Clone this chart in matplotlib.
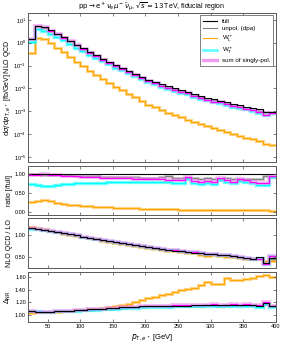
import numpy as np
import matplotlib
matplotlib.use('Agg')
import matplotlib.pyplot as plt
from matplotlib.lines import Line2D
from matplotlib.ticker import FormatStrFormatter, LogLocator, NullLocator

plt.rcParams['font.family'] = ['Liberation Sans', 'DejaVu Sans']
plt.rcParams['mathtext.fontset'] = 'dejavusans'

# bin edges in p_T,e+ [GeV]
edges = np.arange(20, 410, 10)

# full NLO QCD distribution [fb/GeV]
full = [1.45, 5.6, 4.7, 3.5, 2.5, 1.75, 1.2, 0.82, 0.57, 0.40,
        0.28, 0.20, 0.145, 0.105, 0.078, 0.058, 0.044, 0.033, 0.024, 0.019,
        0.0155, 0.0125, 0.0102, 0.0085, 0.0070, 0.0058, 0.0048, 0.0040, 0.0034, 0.0029,
        0.0025, 0.0021, 0.0018, 0.00158, 0.00138, 0.00122, 0.00095, 0.00090]

# ratios to full
r_unpol = [0.99, 0.99, 0.985, 0.98, 0.975, 0.97, 0.965, 0.955, 0.95, 0.95,
           0.945, 0.93, 0.925, 0.92, 0.915, 0.91, 0.91, 0.905, 0.90, 0.905,
           0.93, 0.96, 0.90, 0.89, 0.90, 0.885, 0.88, 0.89, 0.875, 0.88,
           0.885, 0.87, 0.875, 0.88, 0.87, 0.865, 0.95, 0.93]
r_L = [0.255, 0.29, 0.32, 0.28, 0.24, 0.215, 0.195, 0.18, 0.165, 0.15,
       0.14, 0.13, 0.12, 0.112, 0.105, 0.098, 0.092, 0.087, 0.082, 0.078,
       0.074, 0.071, 0.068, 0.065, 0.062, 0.060, 0.058, 0.056, 0.054, 0.052,
       0.050, 0.049, 0.047, 0.045, 0.044, 0.042, 0.040, 0.038]
r_T = [0.74, 0.70, 0.68, 0.69, 0.71, 0.725, 0.74, 0.75, 0.755, 0.76,
       0.765, 0.77, 0.78, 0.78, 0.785, 0.79, 0.78, 0.79, 0.785, 0.795,
       0.785, 0.78, 0.775, 0.775, 0.855, 0.76, 0.745, 0.755, 0.725, 0.835,
       0.78, 0.75, 0.81, 0.785, 0.755, 0.72, 0.72, 0.91]
r_sum = [0.98, 0.985, 0.99, 0.975, 0.965, 0.955, 0.945, 0.935, 0.925, 0.92,
         0.91, 0.905, 0.90, 0.895, 0.89, 0.885, 0.875, 0.88, 0.87, 0.875,
         0.86, 0.85, 0.845, 0.84, 0.92, 0.82, 0.80, 0.81, 0.78, 0.89,
         0.83, 0.80, 0.86, 0.83, 0.80, 0.76, 0.76, 0.95]

# NLO QCD / LO
k_full = [1.16, 1.15, 1.13, 1.11, 1.07, 1.05, 1.025, 1.0, 0.97, 0.935,
          0.92, 0.895, 0.87, 0.84, 0.82, 0.795, 0.77, 0.75, 0.73, 0.71,
          0.69, 0.665, 0.65, 0.63, 0.62, 0.605, 0.59, 0.575, 0.565, 0.55,
          0.54, 0.525, 0.50, 0.47, 0.455, 0.51, 0.37, 0.47]
k_unpol = [1.16, 1.15, 1.13, 1.11, 1.07, 1.05, 1.025, 1.0, 0.97, 0.935,
           0.915, 0.895, 0.87, 0.84, 0.825, 0.80, 0.775, 0.75, 0.735, 0.71,
           0.695, 0.67, 0.655, 0.635, 0.62, 0.61, 0.595, 0.58, 0.565, 0.555,
           0.54, 0.525, 0.505, 0.475, 0.46, 0.49, 0.37, 0.45]
k_L = [1.20, 1.18, 1.14, 1.11, 1.07, 1.04, 1.02, 0.99, 0.96, 0.93,
       0.91, 0.88, 0.855, 0.825, 0.80, 0.78, 0.755, 0.73, 0.71, 0.69,
       0.67, 0.645, 0.63, 0.61, 0.60, 0.585, 0.55, 0.53, 0.55, 0.53,
       0.50, 0.51, 0.49, 0.46, 0.45, 0.46, 0.40, 0.42]
k_T = [1.15, 1.14, 1.125, 1.105, 1.07, 1.05, 1.025, 1.0, 0.97, 0.935,
       0.92, 0.895, 0.87, 0.84, 0.82, 0.80, 0.775, 0.75, 0.735, 0.715,
       0.69, 0.67, 0.655, 0.635, 0.625, 0.61, 0.595, 0.58, 0.57, 0.555,
       0.545, 0.53, 0.51, 0.48, 0.46, 0.47, 0.35, 0.52]
k_sum = [1.16, 1.15, 1.13, 1.11, 1.07, 1.05, 1.025, 1.0, 0.97, 0.935,
         0.92, 0.895, 0.875, 0.845, 0.825, 0.80, 0.775, 0.755, 0.735, 0.715,
         0.695, 0.67, 0.655, 0.635, 0.625, 0.61, 0.595, 0.58, 0.57, 0.555,
         0.545, 0.53, 0.51, 0.48, 0.46, 0.46, 0.35, 0.53]

# Delta_NR
d_full = [1.07, 1.055, 1.05, 1.055, 1.06, 1.065, 1.07, 1.075, 1.085, 1.09,
          1.095, 1.10, 1.105, 1.115, 1.12, 1.125, 1.13, 1.135, 1.14, 1.14,
          1.145, 1.145, 1.15, 1.15, 1.15, 1.155, 1.16, 1.16, 1.165, 1.16,
          1.16, 1.165, 1.16, 1.165, 1.16, 1.15, 1.19, 1.15]
d_unpol = [1.07, 1.055, 1.05, 1.055, 1.06, 1.065, 1.07, 1.075, 1.08, 1.085,
           1.09, 1.095, 1.10, 1.11, 1.115, 1.12, 1.125, 1.13, 1.135, 1.135,
           1.14, 1.14, 1.145, 1.14, 1.145, 1.15, 1.15, 1.155, 1.155, 1.15,
           1.155, 1.16, 1.155, 1.16, 1.155, 1.145, 1.17, 1.14]
d_L = [1.03, 1.04, 1.04, 1.045, 1.05, 1.06, 1.065, 1.075, 1.08, 1.09,
       1.10, 1.11, 1.125, 1.14, 1.165, 1.18, 1.21, 1.24, 1.27, 1.29,
       1.31, 1.34, 1.36, 1.39, 1.41, 1.43, 1.47, 1.52, 1.485, 1.495,
       1.59, 1.55, 1.55, 1.575, 1.59, 1.61, 1.64, 1.60]
d_T = [1.07, 1.06, 1.055, 1.055, 1.06, 1.06, 1.065, 1.07, 1.075, 1.08,
       1.085, 1.09, 1.095, 1.10, 1.105, 1.11, 1.115, 1.12, 1.125, 1.125,
       1.13, 1.13, 1.135, 1.135, 1.14, 1.14, 1.14, 1.145, 1.145, 1.14,
       1.145, 1.15, 1.145, 1.15, 1.14, 1.12, 1.17, 1.12]
d_sum = [1.065, 1.055, 1.05, 1.055, 1.06, 1.065, 1.07, 1.075, 1.085, 1.09,
         1.095, 1.10, 1.105, 1.115, 1.12, 1.125, 1.13, 1.135, 1.14, 1.145,
         1.145, 1.15, 1.155, 1.155, 1.155, 1.16, 1.165, 1.165, 1.17, 1.165,
         1.165, 1.17, 1.165, 1.17, 1.165, 1.16, 1.20, 1.15]

full = np.array(full)
series = {
    'unpol': (full * np.array(r_unpol), r_unpol, k_unpol, d_unpol),
    'L': (full * np.array(r_L), r_L, k_L, d_L),
    'T': (full * np.array(r_T), r_T, k_T, d_T),
    'sum': (full * np.array(r_sum), r_sum, k_sum, d_sum),
    'full': (full, full / full, k_full, d_full),
}
# line colour, band colour, band width, band alpha
styles = {
    'unpol': ('grey', 'grey', 2.0, 0.45),
    'L': ('#ffa500', '#ffa500', 2.2, 0.45),
    'T': ('#00ffff', '#00ffff', 2.4, 0.55),
    'sum': ('#ff00ff', '#ee82ee', 2.6, 0.6),
    'full': ('black', 'black', 0.0, 0.0),
}

fig = plt.figure(figsize=(2.88, 3.42), dpi=100)
left, width = 0.0972, 0.861
ax0 = fig.add_axes([left, 0.526, width, 0.436])
ax1 = fig.add_axes([left, 0.3713, width, 0.1433])
ax2 = fig.add_axes([left, 0.2164, width, 0.1462])
ax3 = fig.add_axes([left, 0.0585, width, 0.1462])
axes = [ax0, ax1, ax2, ax3]

for name in ['unpol', 'L', 'T', 'sum', 'full']:
    col, bcol, bw, ba = styles[name]
    for ax, vals in zip(axes, series[name]):
        if bw > 0:
            ax.stairs(vals, edges, color=bcol, lw=bw, alpha=ba, baseline=None)
        ax.stairs(vals, edges, color=col, lw=0.8, baseline=None)

for ax in axes:
    ax.set_xlim(20, 400)
    ax.tick_params(direction='in', top=True, right=True, length=2.5, width=0.5,
                   labelsize=4, pad=1.5, color='0.3')
    for sp in ax.spines.values():
        sp.set_color('0.35')
        sp.set_linewidth(0.7)
    ax.set_xticks([50, 100, 150, 200, 250, 300, 350, 400])
    ax.yaxis.set_label_coords(-0.062, 0.5)
    if ax is not ax3:
        ax.tick_params(labelbottom=False)

ax0.set_yscale('log')
ax0.set_ylim(6e-6, 20)
ax0.yaxis.set_major_locator(LogLocator(base=10, numticks=10))
ax0.yaxis.set_minor_locator(NullLocator())
ax0.set_ylabel(r'$\mathrm{d}\sigma/\mathrm{d}p_{\mathrm{T},e^+}$ [fb/GeV] NLO QCD', fontsize=5)
ax0.set_title(r'$\mathrm{pp}\rightarrow\mathrm{e}^+\nu_\mathrm{e}\mu^-\bar{\nu}_\mu$, $\sqrt{s}=13\,$TeV, fiducial region',
              fontsize=5, pad=3)

ax1.set_ylim(-0.08, 1.21)
ax1.set_yticks([0.0, 0.5, 1.0])
ax1.yaxis.set_major_formatter(FormatStrFormatter('%.2f'))
ax1.set_ylabel('ratio [/full]', fontsize=5)

ax2.set_ylim(0.25, 1.4)
ax2.set_yticks([0.5, 1.0])
ax2.yaxis.set_major_formatter(FormatStrFormatter('%.2f'))
ax2.set_ylabel('NLO QCD / LO', fontsize=5)

ax3.set_ylim(0.89, 1.68)
ax3.set_yticks([1.0, 1.2, 1.4, 1.6])
ax3.yaxis.set_major_formatter(FormatStrFormatter('%.2f'))
ax3.set_ylabel(r'$\Delta_{\mathrm{NR}}$', fontsize=5)
ax3.set_xlabel(r'$p_{\mathrm{T},e^+}$ [GeV]', fontsize=5.5, labelpad=2)

handles = [
    Line2D([], [], color='black', lw=0.8),
    Line2D([], [], color='grey', lw=0.8),
    Line2D([], [], color='#ffa500', lw=0.8),
    Line2D([], [], color='#00ffff', lw=2.0, alpha=0.6),
    Line2D([], [], color='#ee82ee', lw=2.4, alpha=0.8),
]
labels = ['full', 'unpol. (dpa)', r'W$_\mathrm{L}^+$', r'W$_\mathrm{T}^+$', 'sum of singly-pol.']
leg = ax0.legend(handles, labels, loc='upper right', fontsize=4.5, fancybox=False,
                 edgecolor='0.3', framealpha=1, handlelength=2.2, borderpad=0.5,
                 labelspacing=0.3, borderaxespad=0.4)
leg.get_frame().set_linewidth(0.5)

fig.savefig('out.png', dpi=100)
